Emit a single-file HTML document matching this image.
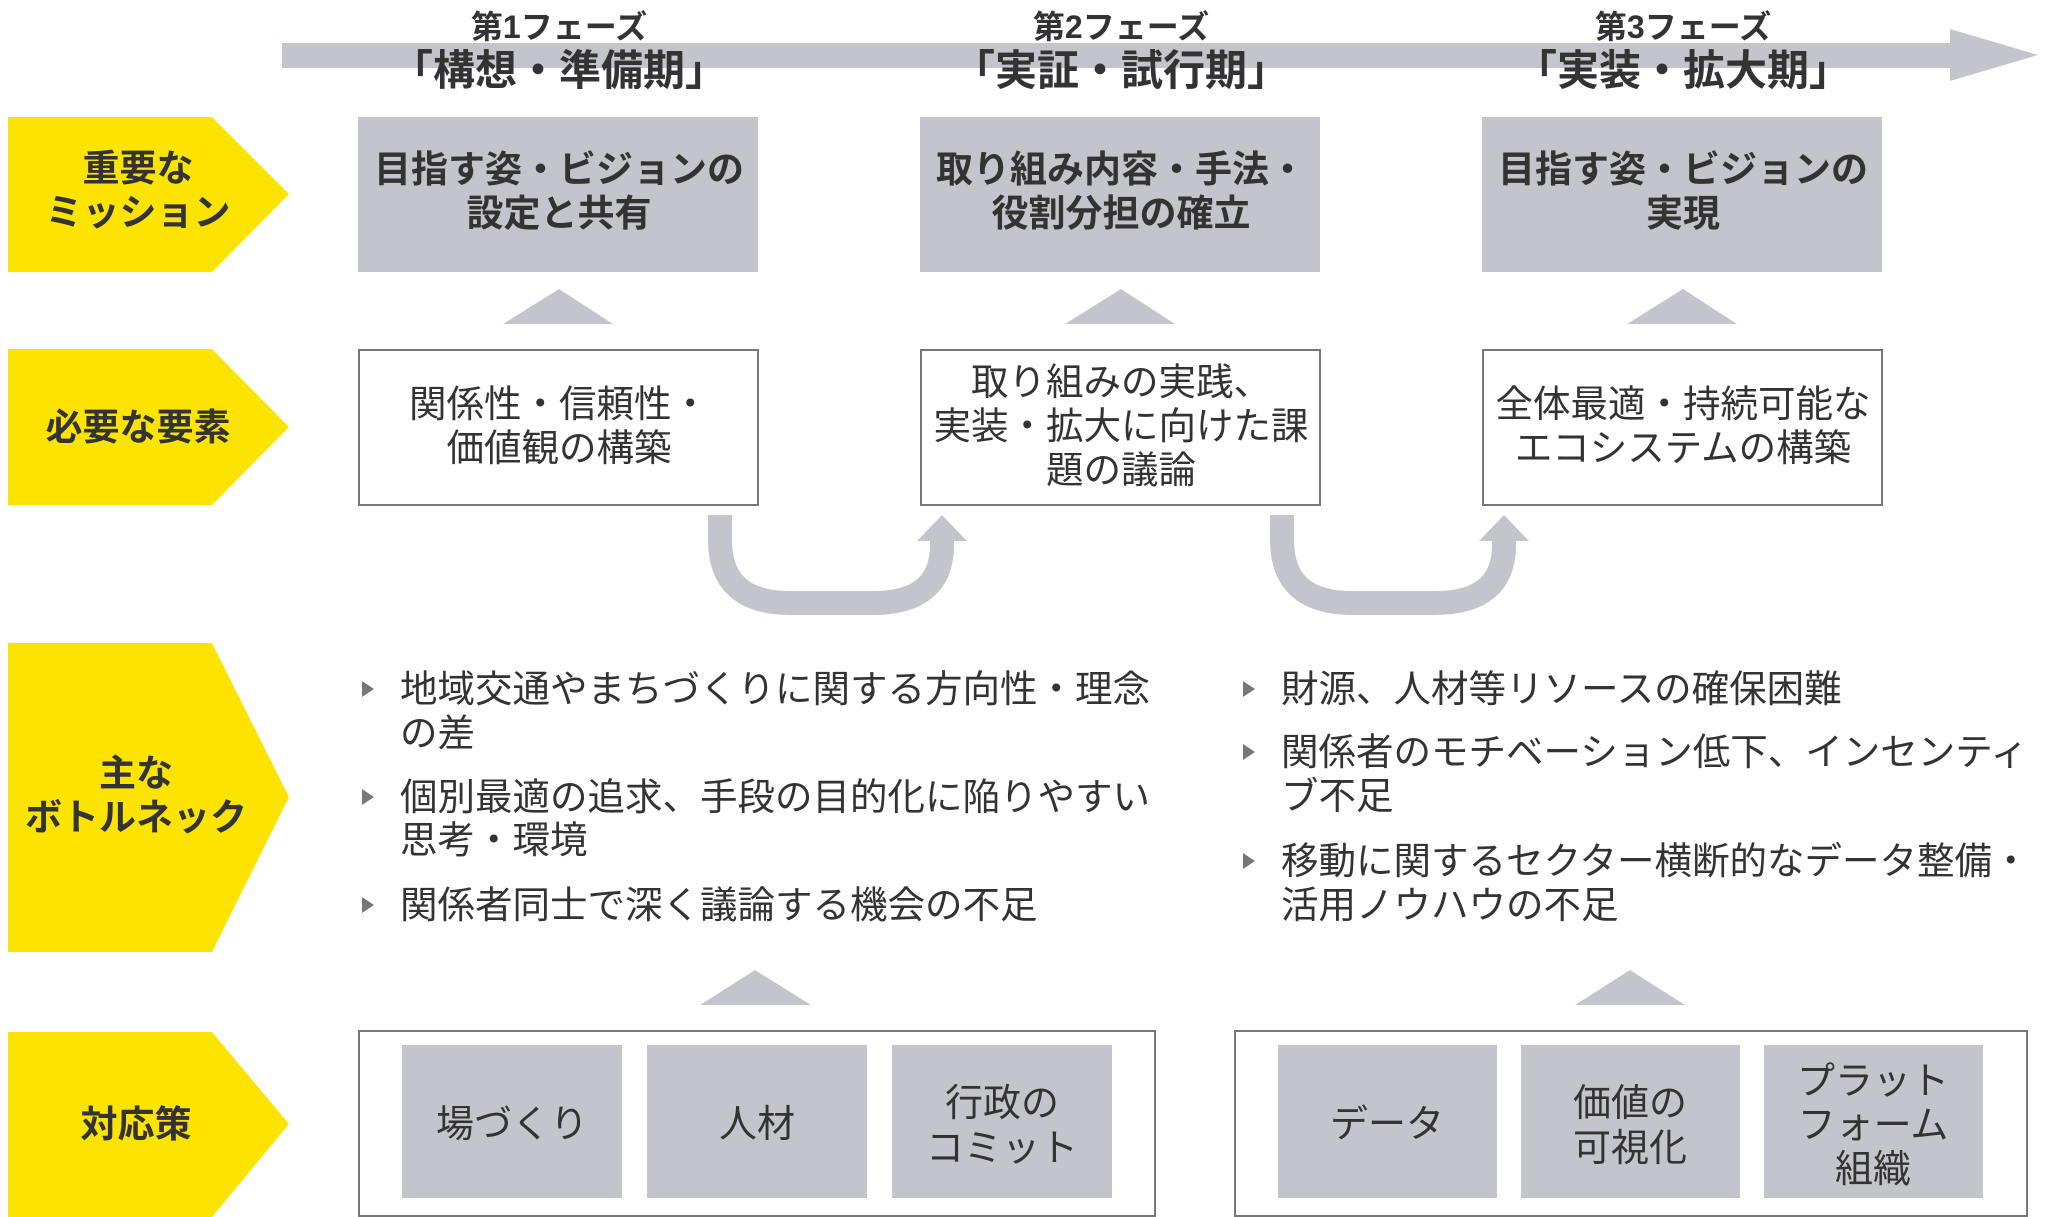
<!DOCTYPE html>
<html><head><meta charset="utf-8"><style>
html,body{margin:0;padding:0;background:#fff;}
svg{display:block;}
text{font-family:"Liberation Sans","Noto Sans CJK JP",sans-serif;fill:#333;}
</style></head><body>
<svg width="2048" height="1217" viewBox="0 0 2048 1217" xmlns="http://www.w3.org/2000/svg">
<rect x="282" y="43" width="1672" height="25" fill="#c4c4cc"/>
<polygon points="1950,29 2038,55 1950,81" fill="#c4c4cc"/>
<g text-anchor="middle">
<text x="559" y="38" font-size="32" font-weight="bold">第1フェーズ</text>
<text x="559" y="85" font-size="42" font-weight="bold">「構想・準備期」</text>
<text x="1121" y="38" font-size="32" font-weight="bold">第2フェーズ</text>
<text x="1121" y="85" font-size="42" font-weight="bold">「実証・試行期」</text>
<text x="1683" y="38" font-size="32" font-weight="bold">第3フェーズ</text>
<text x="1683" y="85" font-size="42" font-weight="bold">「実装・拡大期」</text>
</g>
<g fill="#fce300">
<polygon points="8,117 212,117 289,194 212,272 8,272"/>
<polygon points="8,349 212,349 289,427 212,505 8,505"/>
<polygon points="8,643 212,643 289,797 212,952 8,952"/>
<polygon points="8,1032 212,1032 289,1124 212,1217 8,1217"/>
</g>
<g text-anchor="middle" font-size="37" font-weight="bold">
<text x="138" y="181">重要な</text>
<text x="138" y="225">ミッション</text>
<text x="138" y="440">必要な要素</text>
<text x="136" y="786">主な</text>
<text x="136" y="830">ボトルネック</text>
<text x="136" y="1137">対応策</text>
</g>
<g fill="#c4c4cc">
<rect x="358" y="117" width="400" height="155"/>
<rect x="920" y="117" width="400" height="155"/>
<rect x="1482" y="117" width="400" height="155"/>
<polygon points="503,324 559,289 613,324"/>
<polygon points="1065,324 1121,289 1175,324"/>
<polygon points="1627,324 1683,289 1737,324"/>
</g>
<g text-anchor="middle" font-size="37" font-weight="bold">
<text x="559" y="182">目指す姿・ビジョンの</text>
<text x="559" y="226">設定と共有</text>
<text x="1121" y="182">取り組み内容・手法・</text>
<text x="1121" y="226">役割分担の確立</text>
<text x="1683" y="182">目指す姿・ビジョンの</text>
<text x="1683" y="226">実現</text>
</g>
<g fill="#fff" stroke="#777" stroke-width="2">
<rect x="359" y="350" width="399" height="155"/>
<rect x="921" y="350" width="399" height="155"/>
<rect x="1483" y="350" width="399" height="155"/>
</g>
<g text-anchor="middle" font-size="37.5">
<text x="559" y="417">関係性・信頼性・</text>
<text x="559" y="461">価値観の構築</text>
<text x="1121" y="395">取り組みの実践、</text>
<text x="1121" y="439">実装・拡大に向けた課</text>
<text x="1121" y="483">題の議論</text>
<text x="1683" y="417">全体最適・持続可能な</text>
<text x="1683" y="461">エコシステムの構築</text>
</g>
<g fill="none" stroke="#c4c4cc" stroke-width="24">
<path d="M720,515 V540 Q720,603 790,603 H873 Q942,603 942,545 V538"/>
<path d="M1282,515 V540 Q1282,603 1352,603 H1435 Q1504,603 1504,545 V538"/>
</g>
<g fill="#c4c4cc">
<polygon points="917,541 942,515 967,541"/>
<polygon points="1479,541 1504,515 1529,541"/>
</g>
<g fill="#777">
<polygon points="362,681 362,697 374,689"/>
<polygon points="362,789 362,805 374,797"/>
<polygon points="362,897 362,913 374,905"/>
<polygon points="1243,681 1243,697 1255,689"/>
<polygon points="1243,744 1243,760 1255,752"/>
<polygon points="1243,853 1243,869 1255,861"/>
</g>
<g font-size="37.5">
<text x="400" y="702">地域交通やまちづくりに関する方向性・理念</text>
<text x="400" y="746">の差</text>
<text x="400" y="810">個別最適の追求、手段の目的化に陥りやすい</text>
<text x="400" y="853">思考・環境</text>
<text x="400" y="918">関係者同士で深く議論する機会の不足</text>
<text x="1281" y="702">財源、人材等リソースの確保困難</text>
<text x="1281" y="765">関係者のモチベーション低下、インセンティ</text>
<text x="1281" y="809">ブ不足</text>
<text x="1281" y="874">移動に関するセクター横断的なデータ整備・</text>
<text x="1281" y="918">活用ノウハウの不足</text>
</g>
<g fill="#c4c4cc">
<polygon points="700,1005 755,970 811,1005"/>
<polygon points="1575,1005 1630,970 1685,1005"/>
</g>
<g fill="#fff" stroke="#777" stroke-width="2">
<rect x="359" y="1031" width="796" height="185"/>
<rect x="1235" y="1031" width="792" height="185"/>
</g>
<g fill="#c4c4cc">
<rect x="402" y="1045" width="220" height="153"/>
<rect x="647" y="1045" width="220" height="153"/>
<rect x="892" y="1045" width="220" height="153"/>
<rect x="1278" y="1045" width="219" height="153"/>
<rect x="1521" y="1045" width="219" height="153"/>
<rect x="1764" y="1045" width="219" height="153"/>
</g>
<g text-anchor="middle" font-size="38">
<text x="512" y="1137">場づくり</text>
<text x="757" y="1137">人材</text>
<text x="1002" y="1116">行政の</text>
<text x="1002" y="1161">コミット</text>
<text x="1387" y="1137">データ</text>
<text x="1630" y="1116">価値の</text>
<text x="1630" y="1161">可視化</text>
<text x="1873" y="1094">プラット</text>
<text x="1873" y="1138">フォーム</text>
<text x="1873" y="1182">組織</text>
</g>
</svg>
</body></html>
